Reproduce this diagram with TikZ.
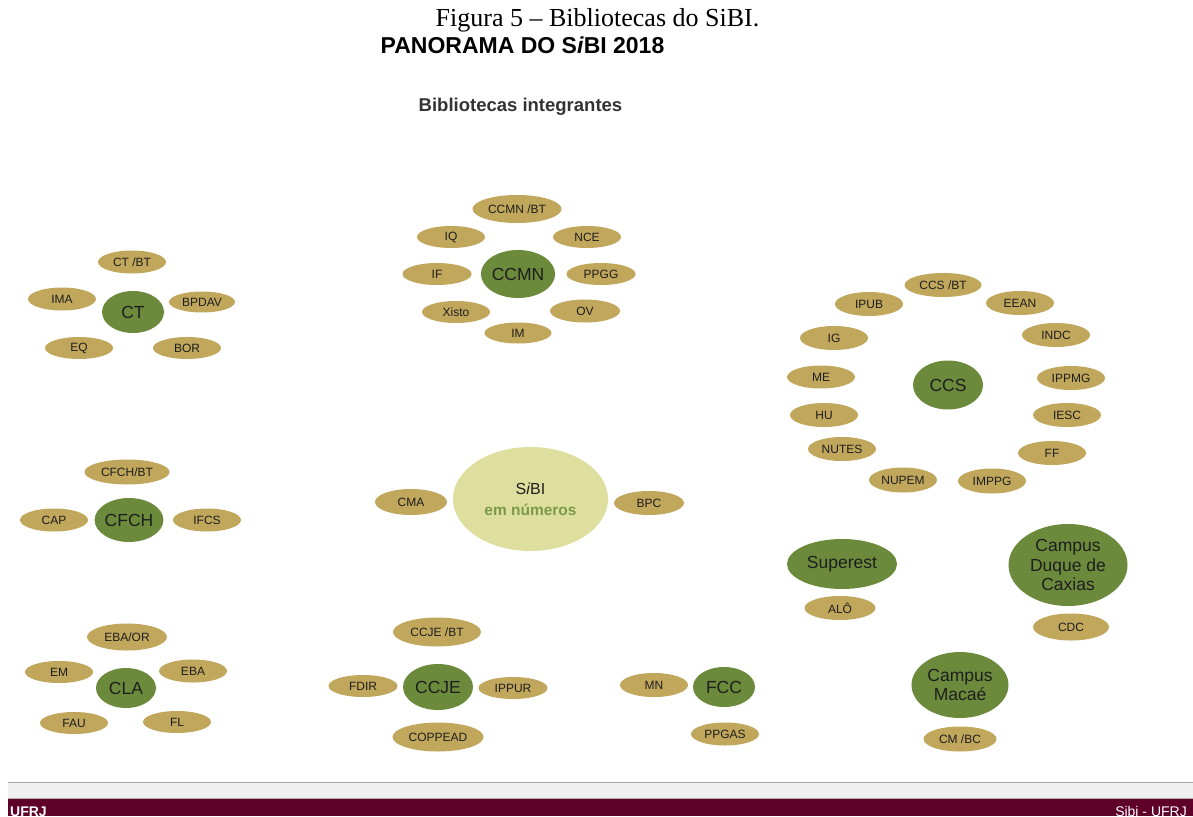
\documentclass[tikz,border=0pt]{standalone}
\usepackage{fontspec}
\setmainfont{Liberation Sans}
\newfontfamily\serifont{Liberation Serif}
\usetikzlibrary{shapes.geometric}
\definecolor{gold}{HTML}{C0A75C}
\definecolor{leaf}{HTML}{6C8A3C}
\definecolor{pale}{HTML}{DEDE9E}
\definecolor{numgreen}{HTML}{7A9A4A}
\definecolor{barred}{HTML}{5E0028}
\definecolor{ink}{HTML}{1E1E1E}
\begin{document}
\begin{tikzpicture}[x=1pt,y=-1pt,
  lib/.style={ellipse, fill=gold, inner sep=0pt, minimum width=68pt, minimum height=23pt,
    font=\fontsize{12}{13}\selectfont, text=ink},
  hub/.style={ellipse, fill=leaf, inner sep=0pt, align=center,
    font=\fontsize{17.5}{19.5}\selectfont, text=ink},
  heading/.style={anchor=base, inner sep=0pt},
]
\useasboundingbox (0,0) rectangle (1193,816);
\fill[white] (0,0) rectangle (1193,816);

% titles
\node[heading, font=\serifont\fontsize{26}{30}\selectfont] (fig) at (597.5,27) {Figura 5 – Bibliotecas do SiBI.};
\node[heading, font=\bfseries\fontsize{23}{26}\selectfont] (pan) at (522.5,53) {PANORAMA DO S\textit{i}BI 2018};
\node[heading, font=\bfseries\fontsize{18.5}{21}\selectfont, text=black!80] (bint) at (520.5,111) {Bibliotecas integrantes};

% CT
\node[lib] (ctbt) at (132,262) {CT /BT};
\node[lib] (ima) at (62,299) {IMA};
\node[hub, minimum width=62, minimum height=42] (ct) at (133,312) {CT};
\node[lib, minimum width=66, minimum height=21] (bpdav) at (202,302) {BPDAV};
\node[lib, minimum height=22] (eq) at (79,348) {EQ};
\node[lib, minimum height=22] (bor) at (187,348) {BOR};

% CCMN
\node[lib, minimum width=89, minimum height=28] (ccmnbt) at (517,209) {CCMN /BT};
\node[lib, minimum height=22] (iq) at (451,237) {IQ};
\node[lib, minimum height=22] (nce) at (587,237) {NCE};
\node[lib, minimum width=69, minimum height=22] (if) at (437,274) {IF};
\node[hub, minimum width=74, minimum height=48] (ccmn) at (518,274) {CCMN};
\node[lib, minimum width=69, minimum height=22] (ppgg) at (601,274) {PPGG};
\node[lib, minimum height=22] (xisto) at (456,312) {Xisto};
\node[lib, minimum width=70] (ov) at (585,311) {OV};
\node[lib, minimum width=67, minimum height=21] (im) at (518,333) {IM};

% CCS
\node[lib, minimum width=77, minimum height=24] (ccsbt) at (943,285) {CCS /BT};
\node[lib, minimum height=24] (ipub) at (869,304) {IPUB};
\node[lib, minimum height=24] (eean) at (1020,303) {EEAN};
\node[lib, minimum height=24] (ig) at (834,338) {IG};
\node[lib, minimum height=24] (indc) at (1056,335) {INDC};
\node[lib, minimum height=23] (me) at (821,377) {ME};
\node[hub, minimum width=70, minimum height=49] (ccs) at (948,385) {CCS};
\node[lib, minimum height=24] (ippmg) at (1071,378) {IPPMG};
\node[lib, minimum height=24] (hu) at (824,415) {HU};
\node[lib, minimum height=24] (iesc) at (1067,415) {IESC};
\node[lib, minimum height=24] (nutes) at (842,449) {NUTES};
\node[lib, minimum height=24] (ff) at (1052,453) {FF};
\node[lib, minimum height=25] (nupem) at (903,480) {NUPEM};
\node[lib, minimum height=25] (imppg) at (992,481) {IMPPG};

% SiBI centre
\node[lib, minimum width=72, minimum height=26] (cma) at (411,502) {CMA};
\node[ellipse, fill=pale, inner sep=0pt, minimum width=155, minimum height=104, align=center,
  font=\fontsize{16}{21}\selectfont] (sibi) at (530.5,499)
  {\textcolor{ink}{S\textit{i}BI}\\\textcolor{numgreen}{\bfseries\fontsize{15.5}{21}\selectfont em números}};
\node[lib, minimum width=70, minimum height=24] (bpc) at (649,503) {BPC};

% CFCH
\node[lib, minimum width=85, minimum height=25] (cfchbt) at (127,472) {CFCH/BT};
\node[lib] (cap) at (54,520) {CAP};
\node[hub, minimum width=68, minimum height=44] (cfch) at (129,520) {CFCH};
\node[lib] (ifcs) at (207,520) {IFCS};

% CLA
\node[lib, minimum width=80, minimum height=27] (ebaor) at (127,637) {EBA/OR};
\node[lib, minimum height=22] (em) at (59,672) {EM};
\node[lib] (eba) at (193,671) {EBA};
\node[hub, minimum width=60, minimum height=40] (cla) at (126,688) {CLA};
\node[lib, minimum height=22] (fau) at (74,723) {FAU};
\node[lib, minimum height=22] (fl) at (177,722) {FL};

% CCJE
\node[lib, minimum width=88, minimum height=29] (ccjebt) at (437,632) {CCJE /BT};
\node[lib, minimum width=69, minimum height=22] (fdir) at (363,686) {FDIR};
\node[hub, minimum width=70, minimum height=46] (ccje) at (438,687) {CCJE};
\node[lib, minimum width=69, minimum height=22] (ippur) at (513,688) {IPPUR};
\node[lib, minimum width=91, minimum height=29] (coppead) at (438,737) {COPPEAD};

% FCC
\node[lib, minimum height=24] (mn) at (654,685) {MN};
\node[hub, minimum width=62, minimum height=40] (fcc) at (724,687) {FCC};
\node[lib] (ppgas) at (725,734) {PPGAS};

% campi
\node[hub, minimum width=110, minimum height=50] (superest) at (842,564) {Superest};
\node[lib, minimum width=71, minimum height=24] (alo) at (840,608) {ALÔ};
\node[hub, minimum width=119, minimum height=82] (caxias) at (1068,565) {Campus\\Duque de\\Caxias};
\node[lib, minimum width=76, minimum height=27] (cdc) at (1071,627) {CDC};
\node[hub, minimum width=97, minimum height=66] (macae) at (960,685) {Campus\\Macaé};
\node[lib, minimum width=73, minimum height=25] (cmbc) at (960,739) {CM /BC};

% footer
\fill[black!6] (8,783) rectangle (1193,798);
\draw[black!35, line width=0.8pt] (8,782.5) -- (1193,782.5);
\draw[black!30, line width=0.8pt] (8,798) -- (1193,798);
\fill[barred] (8,799) rectangle (1193,816);
\node[anchor=base west, inner sep=0pt, text=white, font=\bfseries\fontsize{14}{16}\selectfont] (ufrj) at (10,816.5) {UFRJ};
\node[anchor=base east, inner sep=0pt, text=white, font=\fontsize{14}{16}\selectfont] (sibiufrj) at (1187,816.5) {Sibi - UFRJ};
\end{tikzpicture}
\end{document}
